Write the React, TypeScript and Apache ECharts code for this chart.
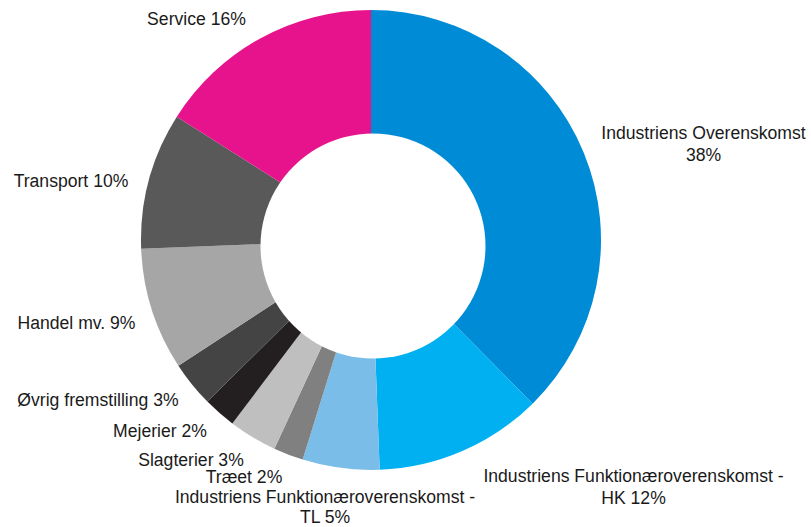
import React, { useEffect, useRef } from "react";
import * as echarts from "echarts";

const categories = [
  "Industriens Overenskomst",
  "Industriens Funktionæroverenskomst - HK",
  "Industriens Funktionæroverenskomst - TL",
  "Træet",
  "Slagterier",
  "Mejerier",
  "Øvrig fremstilling",
  "Handel mv.",
  "Transport",
  "Service",
];
const values = [37.6, 11.8, 5.4, 2.1, 3.4, 2.3, 3.2, 8.6, 9.6, 16.0];
const colors = [
  "#008bd6",
  "#00b0f0",
  "#7abde8",
  "#808080",
  "#bfbfbf",
  "#231f20",
  "#444444",
  "#a6a6a6",
  "#595959",
  "#e6138c",
];
// label anchor layout (centre of each label block)
const labelAnchors: [number, number][] = [
  [703.5, 144],
  [633.5, 487],
  [325, 507],
  [244, 476.5],
  [191, 460],
  [160, 431],
  [98, 399.5],
  [76.5, 322.5],
  [71, 181],
  [196.5, 19],
];
const labelLineHeights = [22, 22, 19.5, 22, 22, 22, 22, 22, 22, 22];

function formatLabel(name: string, percent: number): string {
  const p = Math.round(percent) + "%";
  if (name.indexOf(" - ") >= 0) {
    const parts = name.split(" - ");
    return parts[0] + " -\n" + parts[1] + " " + p;
  }
  if (name.length > 20) return name + "\n" + p;
  return name + " " + p;
}

export default function App() {
  const ref = useRef<HTMLDivElement>(null);
  useEffect(() => {
    document.body.style.margin = "0";
    if (!ref.current) return;
    const chart = echarts.init(ref.current, undefined, { renderer: "svg" });
    chart.setOption({
      animation: false,
      backgroundColor: "#ffffff",
      graphic: [
        {
          type: "circle",
          z: 100,
          shape: { cx: 373, cy: 246, r: 112.5 },
          style: { fill: "#ffffff" },
        },
      ],
      series: [
        {
          type: "pie",
          center: [371, 240],
          radius: [0, 230],
          startAngle: 90,
          clockwise: true,
          avoidLabelOverlap: false,
          data: categories.map((c, i) => ({
            name: c,
            value: values[i],
            itemStyle: { color: colors[i] },
            label: { lineHeight: labelLineHeights[i] },
          })),
          label: {
            show: true,
            position: "outside",
            color: "#1a1a1a",
            fontFamily: "Liberation Sans, Arial, sans-serif",
            fontSize: 17.6,
            lineHeight: 22,
            align: "center",
            formatter: (p: any) => formatLabel(p.name, p.percent),
          },
          labelLine: { show: false },
          labelLayout: (params: any) => {
            const a = labelAnchors[params.dataIndex];
            return { x: a[0], y: a[1], align: "center", verticalAlign: "middle" };
          },
          emphasis: { disabled: true },
        },
      ],
    });
    return () => chart.dispose();
  }, []);
  return <div ref={ref} style={{ width: 811, height: 527 }} />;
}
